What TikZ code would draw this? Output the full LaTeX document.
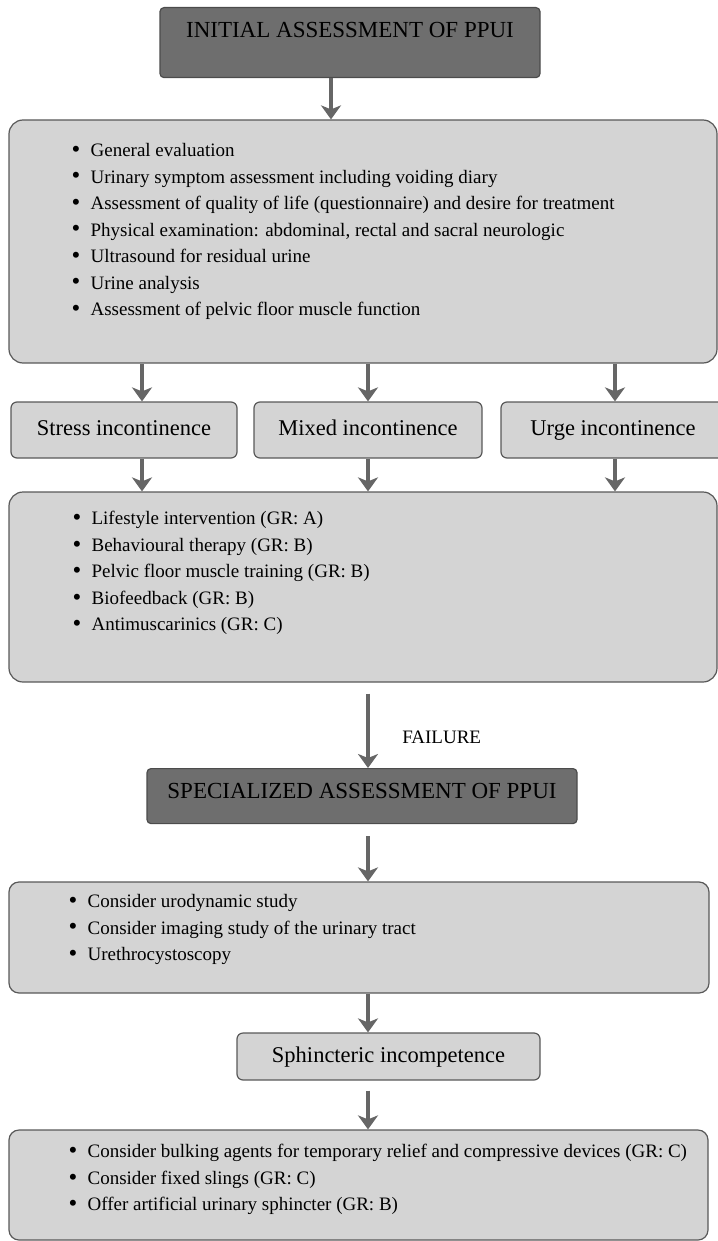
\documentclass[tikz,border=0pt]{standalone}
\usepackage{fontspec}
\setmainfont{Liberation Serif}
\usetikzlibrary{arrows.meta}

\newcommand{\itm}[1]{\makebox[19pt][l]{\raisebox{-0.6pt}{\fontsize{25}{25}\selectfont\textbullet}}#1}

\begin{document}
\begin{tikzpicture}[x=1pt, y=-1pt,
	bigbox/.style={draw=black!65, line width=1.2pt, fill=black!17, inner sep=0pt, rounded corners=14pt},
	headbox/.style={draw=black!70, line width=1.2pt, fill=black!57, inner sep=0pt, anchor=north, rounded corners=4pt, font=\fontsize{23}{27}\selectfont},
	typebox/.style={draw=black!65, line width=1.2pt, fill=black!17, inner sep=0pt, minimum height=56pt, text height=16pt, text depth=5pt, rounded corners=6pt, font=\fontsize{22.5}{27}\selectfont},
	bullets/.style={align=left, inner sep=0pt, anchor=north west, font=\fontsize{19}{26.5}\selectfont},
	flow/.style={draw=black!60, line width=4.5pt, -{Stealth[length=14pt,width=20pt,inset=4pt]}}]
			\useasboundingbox (0,0) rectangle (717,1241);

			% Nodes
			\node[headbox, minimum width=380pt, text height=30pt, text depth=40pt] (init) at (350,7) {INITIAL ASSESSMENT OF PPUI};
			\node[bigbox, minimum width=708pt, minimum height=243pt] (evalbox) at (363,241.5) {};
			\node[bullets] (evallist) at ([xshift=63pt,yshift=-24pt]evalbox.north west) {%
				\itm{General evaluation}\\
				\itm{Urinary symptom assessment including voiding diary}\\
				\itm{Assessment of quality of life (questionnaire) and desire for treatment}\\
				\itm{Physical examination: abdominal, rectal and sacral neurologic}\\
				\itm{Ultrasound for residual urine}\\
				\itm{Urine analysis}\\
				\itm{Assessment of pelvic floor muscle function}};

			\node[typebox, minimum width=226pt] (stress) at (124,430) {Stress incontinence};   % Left
			\node[typebox, minimum width=228pt] (mixed) at (368,430) {Mixed incontinence};     % Middle
			\node[typebox, minimum width=224pt] (urge) at (613,430) {Urge incontinence};       % Right

			\node[bigbox, minimum width=708pt, minimum height=190pt] (consbox) at (363,587) {};
			\node[bullets] (conslist) at ([xshift=64pt,yshift=-20pt]consbox.north west) {%
				\itm{Lifestyle intervention (GR: A)}\\
				\itm{Behavioural therapy (GR: B)}\\
				\itm{Pelvic floor muscle training (GR: B)}\\
				\itm{Biofeedback (GR: B)}\\
				\itm{Antimuscarinics (GR: C)}};

			\node[headbox, minimum width=430pt, text height=29.5pt, text depth=25.5pt] (spec) at (362,768) {SPECIALIZED ASSESSMENT OF PPUI};

			\node[bigbox, minimum width=700pt, minimum height=111pt, rounded corners=10pt] (studybox) at (359,937.5) {};
			\node[bullets] (studylist) at ([xshift=60pt,yshift=-13pt]studybox.north west) {%
				\itm{Consider urodynamic study}\\
				\itm{Consider imaging study of the urinary tract}\\
				\itm{Urethrocystoscopy}};

			\node[typebox, minimum width=303pt, minimum height=47pt] (sphinc) at (388.5,1056.5) {Sphincteric incompetence};

			\node[bigbox, minimum width=699pt, minimum height=110pt, rounded corners=10pt] (treatbox) at (358.5,1185) {};
			\node[bullets] (treatlist) at ([xshift=60pt,yshift=-15pt]treatbox.north west) {%
				\itm{Consider bulking agents for temporary relief and compressive devices (GR: C)}\\
				\itm{Consider fixed slings (GR: C)}\\
				\itm{Offer artificial urinary sphincter (GR: B)}};

			% Arrow columns
			\coordinate (colT) at (331,0);
			\coordinate (colL) at (142,0);
			\coordinate (colM) at (368,0);
			\coordinate (colR) at (615,0);

			% Edges
			\draw[flow] (init.south -| colT) -- (evalbox.north -| colT);
			\foreach \c/\b in {colL/stress, colM/mixed, colR/urge} {
				\draw[flow] (evalbox.south -| \c) -- (\b.north -| \c);
				\draw[flow] (\b.south -| \c) -- (consbox.north -| \c);
			}
			\draw[flow, shorten <=11pt] (consbox.south -| colM) -- node[pos=0.64, anchor=west, xshift=32pt, inner sep=0pt, font=\fontsize{19}{22}\selectfont] (failtxt) {FAILURE} (spec.north -| colM);
			\draw[flow, shorten <=12pt] (spec.south -| colM) -- (studybox.north -| colM);
			\draw[flow] (studybox.south -| colM) -- (sphinc.north -| colM);
			\draw[flow, shorten <=10pt] (sphinc.south -| colM) -- (treatbox.north -| colM);
		\end{tikzpicture}
\end{document}
